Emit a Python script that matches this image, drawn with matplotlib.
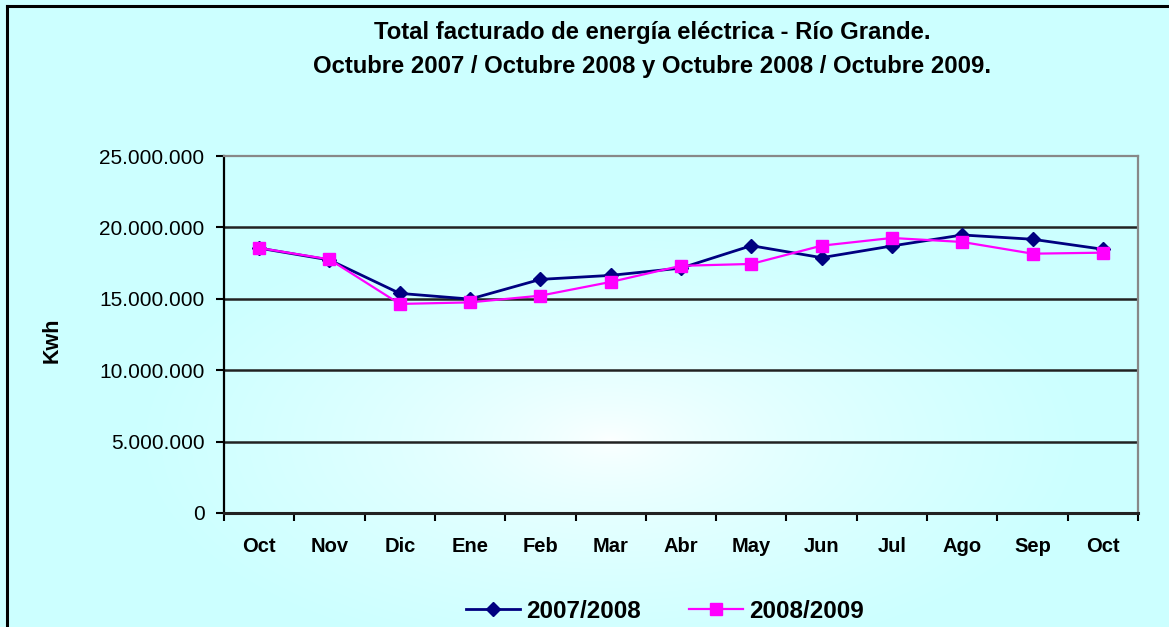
import matplotlib
matplotlib.use("Agg")
import matplotlib.pyplot as plt
import numpy as np
from matplotlib.ticker import FuncFormatter, FixedLocator
from matplotlib.lines import Line2D

# ── Data ──────────────────────────────────────────────────────────────────────
months = ["Oct", "Nov", "Dic", "Ene", "Feb", "Mar", "Abr",
          "May", "Jun", "Jul", "Ago", "Sep", "Oct"]
kwh_0708 = [18550000, 17720000, 15380000, 14980000, 16360000, 16640000, 17150000,
            18720000, 17880000, 18700000, 19470000, 19170000, 18470000]
kwh_0809 = [18560000, 17760000, 14640000, 14750000, 15220000, 16180000, 17310000,
            17440000, 18720000, 19260000, 18980000, 18160000, 18230000]
series_names = ["2007/2008", "2008/2009"]
title_lines = ["Total facturado de energía eléctrica - Río Grande.",
               "Octubre 2007 / Octubre 2008 y Octubre 2008 / Octubre 2009."]
y_ticks = [0, 5000000, 10000000, 15000000, 20000000, 25000000]

plt.rcParams["font.family"] = ["Liberation Sans", "DejaVu Sans"]

W, H = 1169, 627
fig = plt.figure(figsize=(W / 100, H / 100), dpi=100)

# ── Background gradient ──────────────────────────────────────────────────────
bg = fig.add_axes([0, 0, 1, 1], zorder=-10)
yy, xx = np.mgrid[0:H, 0:W]
r = np.sqrt(((xx - 610) / 480.0) ** 2 + ((yy - 440) / 230.0) ** 2)
t = np.clip(r, 0, 1) ** 0.6
base = np.array([0.80, 1.0, 1.0])
img = (1 - t)[..., None] * np.array([1.0, 1.0, 1.0]) + t[..., None] * base
bg.imshow(img, extent=[0, W, H, 0], aspect="auto")
bg.set_xlim(0, W)
bg.set_ylim(H, 0)
bg.axis("off")
# outer frame (left and top visible)
bg.plot([7, 7], [6, H + 5], color="black", lw=2.2)
bg.plot([7, W + 5], [6, 6], color="black", lw=2.2)

# ── Plot ──────────────────────────────────────────────────────────────────────
ax = fig.add_axes([224 / W, 1 - 513 / H, (1138 - 224) / W, (513 - 156) / H])
ax.patch.set_alpha(0)

x = np.arange(len(months))
ax.plot(x, kwh_0708, color="#000080", lw=2, marker="D", markersize=7,
        markerfacecolor="#000080", markeredgecolor="#000080", zorder=3)
ax.plot(x, kwh_0809, color="#ff00ff", lw=1.6, marker="s", markersize=8,
        markerfacecolor="#ff00ff", markeredgecolor="#ff00ff", zorder=4)

ax.set_xlim(-0.5, len(months) - 0.5)
ax.set_ylim(0, 25000000)

ax.set_yticks(y_ticks)
ax.yaxis.set_major_formatter(FuncFormatter(lambda v, p: f"{int(v):,}".replace(",", ".")))
ax.tick_params(axis="y", labelsize=15, length=6, width=1.5, pad=8, direction="out")

ax.set_xticks(x)
ax.set_xticklabels(months, fontsize=14.5, fontweight="bold")
ax.xaxis.set_minor_locator(FixedLocator(np.arange(-0.5, len(months), 1)))
ax.tick_params(axis="x", which="major", length=0, pad=17)
ax.tick_params(axis="x", which="minor", length=6, width=1.5, direction="out")

for v in y_ticks[1:-1]:
    ax.axhline(v, color="#222222", lw=1.8, zorder=1)

ax.spines["left"].set_color("black")
ax.spines["left"].set_linewidth(1.6)
ax.spines["bottom"].set_color("#222222")
ax.spines["bottom"].set_linewidth(2.2)
for s in ["top", "right"]:
    ax.spines[s].set_color("#888888")
    ax.spines[s].set_linewidth(1.6)

fig.text(52 / W, 1 - 340 / H, "Kwh", rotation=90, ha="center", va="center",
         fontsize=15.5, fontweight="bold")

fig.text(652 / W, 1 - 33 / H, title_lines[0], ha="center", va="center",
         fontsize=17.2, fontweight="bold")
fig.text(652 / W, 1 - 66 / H, title_lines[1], ha="center", va="center",
         fontsize=17.2, fontweight="bold")

handles = [Line2D([], [], color="#000080", lw=2, marker="D", markersize=7),
           Line2D([], [], color="#ff00ff", lw=1.6, marker="s", markersize=8)]
fig.legend(handles, series_names, loc="center", bbox_to_anchor=(665 / W, 1 - 611 / H),
           ncol=2, frameon=False, handlelength=2.2, handletextpad=0.25,
           columnspacing=2.0, prop={"weight": "bold", "size": 17.5})

plt.savefig("out.png", dpi=100)
